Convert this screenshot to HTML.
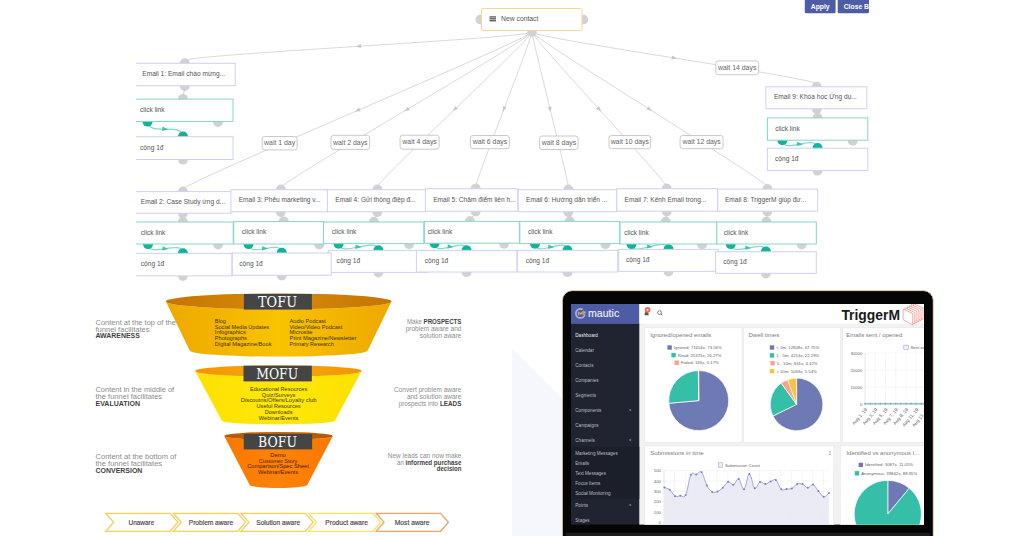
<!DOCTYPE html><html><head><meta charset="utf-8"><style>html,body{margin:0;padding:0;background:#fff;width:1024px;height:536px;overflow:hidden}svg text{font-family:"Liberation Sans", "DejaVu Sans", sans-serif}</style></head><body>
<svg width="1024" height="536" viewBox="0 0 1024 536" style="display:block">
<defs><clipPath id="cbclip"><rect x="136" y="0" width="900" height="286"/></clipPath></defs>
<g clip-path="url(#cbclip)"><path d="M532,32 C532,38 184.8,54.6 184.8,60.6" fill="none" stroke="#dadada" stroke-width="1"/><polygon points="355.7,46.5 361.0,44.1 361.2,48.1" fill="#c8c8c8"/><path d="M532,32 C532,38 182.9,183.1 182.9,189.1" fill="none" stroke="#dadada" stroke-width="1"/><polygon points="355.0,111.6 359.1,107.6 360.7,111.3" fill="#c8c8c8"/><path d="M532,32 C532,38 280.8,181.7 280.8,187.7" fill="none" stroke="#dadada" stroke-width="1"/><polygon points="404.1,111.2 407.7,106.7 409.8,110.2" fill="#c8c8c8"/><path d="M532,32 C532,38 377.4,180.8 377.4,186.8" fill="none" stroke="#dadada" stroke-width="1"/><polygon points="452.8,111.3 455.2,106.1 458.0,109.0" fill="#c8c8c8"/><path d="M532,32 C532,38 475.7,180.5 475.7,186.5" fill="none" stroke="#dadada" stroke-width="1"/><polygon points="502.9,111.8 502.9,106.0 506.7,107.4" fill="#c8c8c8"/><path d="M532,32 C532,38 568.4,181.0 568.4,187.0" fill="none" stroke="#dadada" stroke-width="1"/><polygon points="550.8,112.1 547.6,107.4 551.5,106.4" fill="#c8c8c8"/><path d="M532,32 C532,38 666.7,181.0 666.7,187.0" fill="none" stroke="#dadada" stroke-width="1"/><polygon points="601.2,111.5 596.0,108.9 599.0,106.1" fill="#c8c8c8"/><path d="M532,32 C532,38 767.4,180.8 767.4,186.8" fill="none" stroke="#dadada" stroke-width="1"/><polygon points="652.0,110.8 646.3,109.7 648.5,106.2" fill="#c8c8c8"/><path d="M532,32 C532,38 816.8,78.0 816.8,84.0" fill="none" stroke="#dadada" stroke-width="1"/><polygon points="677.1,58.4 671.4,59.6 672.1,55.6" fill="#c8c8c8"/><rect x="262.2" y="136.5" width="34.9" height="13.4" rx="2.5" fill="#fff" stroke="#bdbdbd" stroke-width="0.8"/><text x="279.6" y="145.4" text-anchor="middle" font-size="6.9" fill="#666">wait 1 day</text><rect x="331.0" y="135.3" width="38.6" height="14.1" rx="2.5" fill="#fff" stroke="#bdbdbd" stroke-width="0.8"/><text x="350.3" y="144.6" text-anchor="middle" font-size="6.9" fill="#666">wait 2 days</text><rect x="400.1" y="135.2" width="39.1" height="14.0" rx="2.5" fill="#fff" stroke="#bdbdbd" stroke-width="0.8"/><text x="419.6" y="144.4" text-anchor="middle" font-size="6.9" fill="#666">wait 4 days</text><rect x="470.4" y="135.5" width="38.9" height="13.2" rx="2.5" fill="#fff" stroke="#bdbdbd" stroke-width="0.8"/><text x="489.9" y="144.3" text-anchor="middle" font-size="6.9" fill="#666">wait 6 days</text><rect x="539.6" y="136.0" width="38.5" height="13.5" rx="2.5" fill="#fff" stroke="#bdbdbd" stroke-width="0.8"/><text x="558.9" y="144.9" text-anchor="middle" font-size="6.9" fill="#666">wait 8 days</text><rect x="609.0" y="135.5" width="41.6" height="13.2" rx="2.5" fill="#fff" stroke="#bdbdbd" stroke-width="0.8"/><text x="629.8" y="144.3" text-anchor="middle" font-size="6.9" fill="#666">wait 10 days</text><rect x="680.1" y="135.5" width="43.0" height="13.2" rx="2.5" fill="#fff" stroke="#bdbdbd" stroke-width="0.8"/><text x="701.6" y="144.3" text-anchor="middle" font-size="6.9" fill="#666">wait 12 days</text><rect x="715.8" y="60.9" width="42.9" height="13.8" rx="2.5" fill="#fff" stroke="#bdbdbd" stroke-width="0.8"/><text x="737.2" y="70.0" text-anchor="middle" font-size="6.9" fill="#666">wait 14 days</text><circle cx="184.8" cy="63.1" r="4.9" fill="#d2d2d2"/><circle cx="184.8" cy="86.0" r="4.9" fill="#d2d2d2"/><circle cx="183.0" cy="98.8" r="4.9" fill="#d2d2d2"/><line x1="184.8" y1="87.7" x2="183" y2="97.1" stroke="#cfcfcf" stroke-width="1"/><circle cx="218.0" cy="122.1" r="4.9" fill="#d2d2d2"/><circle cx="183.0" cy="159.7" r="4.9" fill="#d2d2d2"/><path d="M147.5,121.5 C147.5,136.5 183.0,121.7 183.0,136.7" fill="none" stroke="#86d9c8" stroke-width="1.2"/><polygon points="168.2,129.4 162.0,131.0 162.5,126.6" fill="#3fc3aa"/><circle cx="147.5" cy="121.6" r="5.0" fill="#12b39b"/><circle cx="183.0" cy="136.5" r="5.0" fill="#12b39b"/><circle cx="182.9" cy="191.4" r="4.9" fill="#d2d2d2"/><circle cx="182.9" cy="213.5" r="4.9" fill="#d2d2d2"/><circle cx="182.9" cy="221.7" r="4.9" fill="#d2d2d2"/><line x1="182.9" y1="215.2" x2="182.9" y2="220" stroke="#cfcfcf" stroke-width="1"/><circle cx="218.1" cy="244.6" r="4.9" fill="#d2d2d2"/><circle cx="182.9" cy="276.1" r="4.9" fill="#d2d2d2"/><path d="M148.0,244.0 C148.0,259.0 182.9,238.4 182.9,253.4" fill="none" stroke="#86d9c8" stroke-width="1.2"/><polygon points="168.4,249.0 162.2,250.6 162.7,246.2" fill="#3fc3aa"/><circle cx="148.0" cy="244.1" r="5.0" fill="#12b39b"/><circle cx="182.9" cy="253.2" r="5.0" fill="#12b39b"/><circle cx="280.8" cy="189.5" r="4.9" fill="#d2d2d2"/><circle cx="280.8" cy="212.1" r="4.9" fill="#d2d2d2"/><circle cx="283.8" cy="221.3" r="4.9" fill="#d2d2d2"/><line x1="280.8" y1="213.8" x2="283.8" y2="219.6" stroke="#cfcfcf" stroke-width="1"/><circle cx="319.2" cy="244.6" r="4.9" fill="#d2d2d2"/><circle cx="281.8" cy="275.5" r="4.9" fill="#d2d2d2"/><path d="M248.5,244.0 C248.5,259.0 281.8,238.0 281.8,253.0" fill="none" stroke="#86d9c8" stroke-width="1.2"/><polygon points="268.1,248.8 261.9,250.4 262.4,246.0" fill="#3fc3aa"/><circle cx="248.5" cy="244.1" r="5.0" fill="#12b39b"/><circle cx="281.8" cy="252.8" r="5.0" fill="#12b39b"/><circle cx="377.4" cy="189.5" r="4.9" fill="#d2d2d2"/><circle cx="377.4" cy="212.1" r="4.9" fill="#d2d2d2"/><circle cx="373.9" cy="221.7" r="4.9" fill="#d2d2d2"/><line x1="377.4" y1="213.8" x2="373.9" y2="220" stroke="#cfcfcf" stroke-width="1"/><circle cx="409.1" cy="244.2" r="4.9" fill="#d2d2d2"/><circle cx="378.4" cy="272.6" r="4.9" fill="#d2d2d2"/><path d="M338.6,243.6 C338.6,258.6 378.4,235.4 378.4,250.4" fill="none" stroke="#86d9c8" stroke-width="1.2"/><polygon points="361.5,247.3 355.3,248.9 355.7,244.5" fill="#3fc3aa"/><circle cx="338.6" cy="243.7" r="5.0" fill="#12b39b"/><circle cx="378.4" cy="250.2" r="5.0" fill="#12b39b"/><circle cx="475.7" cy="188.5" r="4.9" fill="#d2d2d2"/><circle cx="475.7" cy="211.5" r="4.9" fill="#d2d2d2"/><circle cx="469.9" cy="221.1" r="4.9" fill="#d2d2d2"/><line x1="475.7" y1="213.2" x2="469.9" y2="219.4" stroke="#cfcfcf" stroke-width="1"/><circle cx="504.1" cy="243.8" r="4.9" fill="#d2d2d2"/><circle cx="466.6" cy="272.2" r="4.9" fill="#d2d2d2"/><path d="M434.6,243.2 C434.6,258.2 466.6,235.4 466.6,250.4" fill="none" stroke="#86d9c8" stroke-width="1.2"/><polygon points="453.6,247.1 447.4,248.7 447.8,244.3" fill="#3fc3aa"/><circle cx="434.6" cy="243.3" r="5.0" fill="#12b39b"/><circle cx="466.6" cy="250.2" r="5.0" fill="#12b39b"/><circle cx="568.4" cy="189.5" r="4.9" fill="#d2d2d2"/><circle cx="568.4" cy="212.1" r="4.9" fill="#d2d2d2"/><circle cx="569.7" cy="221.1" r="4.9" fill="#d2d2d2"/><line x1="568.4" y1="213.8" x2="569.7" y2="219.4" stroke="#cfcfcf" stroke-width="1"/><circle cx="605.4" cy="244.2" r="4.9" fill="#d2d2d2"/><circle cx="567.5" cy="272.2" r="4.9" fill="#d2d2d2"/><path d="M535.0,243.6 C535.0,258.6 567.5,235.4 567.5,250.4" fill="none" stroke="#86d9c8" stroke-width="1.2"/><polygon points="554.2,247.3 548.0,248.9 548.5,244.5" fill="#3fc3aa"/><circle cx="535.0" cy="243.7" r="5.0" fill="#12b39b"/><circle cx="567.5" cy="250.2" r="5.0" fill="#12b39b"/><circle cx="666.7" cy="188.5" r="4.9" fill="#d2d2d2"/><circle cx="666.7" cy="211.5" r="4.9" fill="#d2d2d2"/><circle cx="665.7" cy="221.7" r="4.9" fill="#d2d2d2"/><line x1="666.7" y1="213.2" x2="665.7" y2="220" stroke="#cfcfcf" stroke-width="1"/><circle cx="702.0" cy="244.6" r="4.9" fill="#d2d2d2"/><circle cx="668.5" cy="271.6" r="4.9" fill="#d2d2d2"/><path d="M631.5,244.0 C631.5,259.0 668.5,234.4 668.5,249.4" fill="none" stroke="#86d9c8" stroke-width="1.2"/><polygon points="653.0,247.0 646.8,248.6 647.2,244.2" fill="#3fc3aa"/><circle cx="631.5" cy="244.1" r="5.0" fill="#12b39b"/><circle cx="668.5" cy="249.2" r="5.0" fill="#12b39b"/><circle cx="767.4" cy="188.9" r="4.9" fill="#d2d2d2"/><circle cx="767.4" cy="211.5" r="4.9" fill="#d2d2d2"/><circle cx="766.4" cy="221.7" r="4.9" fill="#d2d2d2"/><line x1="767.4" y1="213.2" x2="766.4" y2="220" stroke="#cfcfcf" stroke-width="1"/><circle cx="801.7" cy="244.6" r="4.9" fill="#d2d2d2"/><circle cx="765.9" cy="273.5" r="4.9" fill="#d2d2d2"/><path d="M730.7,244.0 C730.7,259.0 765.9,236.8 765.9,251.8" fill="none" stroke="#86d9c8" stroke-width="1.2"/><polygon points="751.3,248.2 745.1,249.8 745.5,245.4" fill="#3fc3aa"/><circle cx="730.7" cy="244.1" r="5.0" fill="#12b39b"/><circle cx="765.9" cy="251.6" r="5.0" fill="#12b39b"/><circle cx="816.8" cy="86.6" r="4.9" fill="#d2d2d2"/><circle cx="816.8" cy="109.0" r="4.9" fill="#d2d2d2"/><circle cx="817.6" cy="117.6" r="4.9" fill="#d2d2d2"/><line x1="816.8" y1="110.7" x2="817.6" y2="115.9" stroke="#cfcfcf" stroke-width="1"/><circle cx="852.7" cy="140.8" r="4.9" fill="#d2d2d2"/><circle cx="817.6" cy="170.7" r="4.9" fill="#d2d2d2"/><path d="M782.4,140.2 C782.4,155.2 817.6,133.2 817.6,148.2" fill="none" stroke="#86d9c8" stroke-width="1.2"/><polygon points="803.0,144.5 796.8,146.1 797.2,141.7" fill="#3fc3aa"/><circle cx="782.4" cy="140.3" r="5.0" fill="#12b39b"/><circle cx="817.6" cy="148.0" r="5.0" fill="#12b39b"/><rect x="130" y="63.3" width="105.2" height="22.4" fill="#fff" stroke="#cdd1f6" stroke-width="1"/><text x="142.3" y="76.1" font-size="6.6" fill="#555">Email 1: Email chào mừng...</text><rect x="130" y="191.6" width="101.9" height="21.6" fill="#fff" stroke="#cdd1f6" stroke-width="1"/><text x="140.8" y="204.0" font-size="6.6" fill="#555">Email 2: Case Study ứng d...</text><rect x="230.9" y="189.7" width="96.9" height="22.1" fill="#fff" stroke="#cdd1f6" stroke-width="1"/><text x="238.7" y="202.3" font-size="6.6" fill="#555">Email 3: Phễu marketing v...</text><rect x="327.4" y="189.7" width="98.4" height="22.1" fill="#fff" stroke="#cdd1f6" stroke-width="1"/><text x="335.3" y="202.3" font-size="6.6" fill="#555">Email 4: Gửi thông điệp đ...</text><rect x="425.4" y="188.7" width="92.4" height="22.5" fill="#fff" stroke="#cdd1f6" stroke-width="1"/><text x="433.2" y="201.5" font-size="6.6" fill="#555">Email 5: Chăm điểm liên h...</text><rect x="518.2" y="189.7" width="98.6" height="22.1" fill="#fff" stroke="#cdd1f6" stroke-width="1"/><text x="526.0" y="202.3" font-size="6.6" fill="#555">Email 6: Hướng dẫn triển ...</text><rect x="616.8" y="188.7" width="100.6" height="22.5" fill="#fff" stroke="#cdd1f6" stroke-width="1"/><text x="624.6" y="201.5" font-size="6.6" fill="#555">Email 7: Kênh Email trong...</text><rect x="717.8" y="189.1" width="99.9" height="22.1" fill="#fff" stroke="#cdd1f6" stroke-width="1"/><text x="724.9" y="201.7" font-size="6.6" fill="#555">Email 8: TriggerM giúp đư...</text><rect x="765.9" y="86.8" width="100.9" height="21.9" fill="#fff" stroke="#cdd1f6" stroke-width="1"/><text x="773.9" y="99.3" font-size="6.6" fill="#555">Email 9: Khóa học Ứng dụ...</text><rect x="130" y="99.1" width="103.0" height="22.4" fill="#fff" stroke="#84d8c6" stroke-width="1"/><text x="140.0" y="111.9" font-size="6.6" fill="#555">click link</text><rect x="130" y="222" width="103.2" height="22.0" fill="#fff" stroke="#84d8c6" stroke-width="1"/><text x="140.8" y="234.6" font-size="6.6" fill="#555">click link</text><rect x="233.8" y="221.6" width="90.2" height="22.4" fill="#fff" stroke="#84d8c6" stroke-width="1"/><text x="241.7" y="234.4" font-size="6.6" fill="#555">click link</text><rect x="323.5" y="222" width="100.3" height="21.6" fill="#fff" stroke="#84d8c6" stroke-width="1"/><text x="331.8" y="234.4" font-size="6.6" fill="#555">click link</text><rect x="424.4" y="221.4" width="95.0" height="21.8" fill="#fff" stroke="#84d8c6" stroke-width="1"/><text x="427.7" y="233.9" font-size="6.6" fill="#555">click link</text><rect x="519.8" y="221.4" width="99.9" height="22.2" fill="#fff" stroke="#84d8c6" stroke-width="1"/><text x="528.0" y="234.1" font-size="6.6" fill="#555">click link</text><rect x="620" y="222" width="96.8" height="22.0" fill="#fff" stroke="#84d8c6" stroke-width="1"/><text x="624.2" y="234.6" font-size="6.6" fill="#555">click link</text><rect x="716.8" y="222" width="99.5" height="22.0" fill="#fff" stroke="#84d8c6" stroke-width="1"/><text x="723.7" y="234.6" font-size="6.6" fill="#555">click link</text><rect x="767.4" y="117.9" width="100.4" height="22.3" fill="#fff" stroke="#84d8c6" stroke-width="1"/><text x="775.2" y="130.7" font-size="6.6" fill="#555">click link</text><rect x="130" y="136.7" width="103.0" height="22.8" fill="#fff" stroke="#cdd1f6" stroke-width="1"/><text x="140.0" y="149.7" font-size="6.6" fill="#555">cộng 1đ</text><rect x="130" y="253.4" width="101.9" height="22.5" fill="#fff" stroke="#cdd1f6" stroke-width="1"/><text x="140.8" y="266.2" font-size="6.6" fill="#555">cộng 1đ</text><rect x="328.3" y="250.4" width="100.0" height="22.0" fill="#fff" stroke="#cdd1f6" stroke-width="1"/><text x="336.6" y="263.0" font-size="6.6" fill="#555">cộng 1đ</text><rect x="232.3" y="253" width="98.9" height="22.3" fill="#fff" stroke="#cdd1f6" stroke-width="1"/><text x="239.3" y="265.8" font-size="6.6" fill="#555">cộng 1đ</text><rect x="416.4" y="250.4" width="100.5" height="21.6" fill="#fff" stroke="#cdd1f6" stroke-width="1"/><text x="424.8" y="262.8" font-size="6.6" fill="#555">cộng 1đ</text><rect x="517.4" y="250.4" width="100.3" height="21.6" fill="#fff" stroke="#cdd1f6" stroke-width="1"/><text x="525.7" y="262.8" font-size="6.6" fill="#555">cộng 1đ</text><rect x="618.7" y="249.4" width="99.7" height="22.0" fill="#fff" stroke="#cdd1f6" stroke-width="1"/><text x="626.0" y="262.0" font-size="6.6" fill="#555">cộng 1đ</text><rect x="715.5" y="251.8" width="100.8" height="21.5" fill="#fff" stroke="#cdd1f6" stroke-width="1"/><text x="723.3" y="264.2" font-size="6.6" fill="#555">cộng 1đ</text><rect x="767.4" y="148.2" width="100.4" height="22.3" fill="#fff" stroke="#cdd1f6" stroke-width="1"/><text x="775.0" y="160.9" font-size="6.6" fill="#555">cộng 1đ</text><circle cx="480.3" cy="19.5" r="4.8" fill="#d2d2d2"/><circle cx="583.4" cy="19.5" r="4.8" fill="#d2d2d2"/><circle cx="532.0" cy="32.0" r="4.8" fill="#d2d2d2"/><rect x="481.5" y="8.5" width="100.5" height="22" rx="1.5" fill="#fff" stroke="#f8d595" stroke-width="1"/><rect x="489.5" y="16.3" width="6.5" height="1.3" fill="#555"/><rect x="489.5" y="18.2" width="6.5" height="1.3" fill="#555"/><rect x="489.5" y="20.1" width="6.5" height="1.3" fill="#555"/><text x="501" y="20.8" font-size="6.8" fill="#555">New contact</text><rect x="804.8" y="-3" width="30.8" height="16.2" rx="1.5" fill="#4e5ca6"/><text x="820.2" y="9.2" text-anchor="middle" font-size="6.8" font-weight="bold" fill="#fff">Apply</text><rect x="837.7" y="-3" width="31.3" height="16.2" rx="1.5" fill="#4e5ca6"/><svg x="837.7" y="0" width="31.3" height="14" overflow="hidden"><text x="6" y="9.2" font-size="6.8" font-weight="bold" fill="#fff">Close Bu</text></svg></g>
<defs>
<linearGradient id="tofuB" x1="0" x2="1" y1="0" y2="0"><stop offset="0" stop-color="#eea800"/><stop offset="0.5" stop-color="#f9c300"/><stop offset="1" stop-color="#eea800"/></linearGradient>
<linearGradient id="tofuI" x1="0" x2="1" y1="0" y2="0"><stop offset="0" stop-color="#c67400"/><stop offset="0.5" stop-color="#d58b0c"/><stop offset="1" stop-color="#c67400"/></linearGradient>
<linearGradient id="mofuB" x1="0" x2="1" y1="0" y2="0"><stop offset="0" stop-color="#fde000"/><stop offset="0.5" stop-color="#ffe80a"/><stop offset="1" stop-color="#fde000"/></linearGradient>
<linearGradient id="mofuI" x1="0" x2="1" y1="0" y2="0"><stop offset="0" stop-color="#f39400"/><stop offset="0.5" stop-color="#f7a812"/><stop offset="1" stop-color="#f39400"/></linearGradient>
<linearGradient id="bofuB" x1="0" x2="1" y1="0" y2="0"><stop offset="0" stop-color="#fa7800"/><stop offset="0.5" stop-color="#ff8208"/><stop offset="1" stop-color="#fa7800"/></linearGradient>
<linearGradient id="bofuI" x1="0" x2="1" y1="0" y2="0"><stop offset="0" stop-color="#b45600"/><stop offset="0.5" stop-color="#c46408"/><stop offset="1" stop-color="#b45600"/></linearGradient>
</defs><path d="M165.89999999999998,301.4 L189.7,350.6 A89.0,6.0 0 0 0 367.7,350.6 L391.5,301.4 A112.8,7.9 0 0 1 165.89999999999998,301.4 Z" fill="url(#tofuB)"/><ellipse cx="278.7" cy="301.4" rx="112.8" ry="7.9" fill="url(#tofuI)"/><path d="M195.2,371.0 L221.7,420.4 A56.7,4.0 0 0 0 335.09999999999997,420.4 L361.59999999999997,371.0 A83.2,5.7 0 0 1 195.2,371.0 Z" fill="url(#mofuB)"/><ellipse cx="278.4" cy="371.0" rx="83.2" ry="5.7" fill="url(#mofuI)"/><path d="M224.2,436.0 L249.6,484.8 A28.9,3.2 0 0 0 307.4,484.8 L332.8,436.0 A54.3,4.0 0 0 1 224.2,436.0 Z" fill="url(#bofuB)"/><ellipse cx="278.5" cy="436.0" rx="54.3" ry="4.0" fill="url(#bofuI)"/><rect x="243.9" y="293.9" width="68.0" height="15.7" fill="#454545"/><text x="277.5" y="307.3" text-anchor="middle" style='font-family:"DejaVu Serif", "Liberation Serif", serif' font-size="13.9" fill="#fff" textLength="39.0" lengthAdjust="spacingAndGlyphs">TOFU</text><rect x="243.5" y="365.7" width="68.3" height="15.7" fill="#454545"/><text x="277.2" y="378.8" text-anchor="middle" style='font-family:"DejaVu Serif", "Liberation Serif", serif' font-size="13.9" fill="#fff" textLength="42.0" lengthAdjust="spacingAndGlyphs">MOFU</text><rect x="243.75" y="434.0" width="68.4" height="15.4" fill="#454545"/><text x="277.5" y="446.9" text-anchor="middle" style='font-family:"DejaVu Serif", "Liberation Serif", serif' font-size="13.9" fill="#fff" textLength="38.8" lengthAdjust="spacingAndGlyphs">BOFU</text><text x="214.8" y="322.9" font-size="5.8" fill="#3e3300" text-anchor="start" textLength="10.9" lengthAdjust="spacingAndGlyphs">Blog</text><text x="214.8" y="328.5" font-size="5.8" fill="#3e3300" text-anchor="start" textLength="54.3" lengthAdjust="spacingAndGlyphs">Social Media Updates</text><text x="214.8" y="334.2" font-size="5.8" fill="#3e3300" text-anchor="start" textLength="31.0" lengthAdjust="spacingAndGlyphs">Infographics</text><text x="214.8" y="339.8" font-size="5.8" fill="#3e3300" text-anchor="start" textLength="32.1" lengthAdjust="spacingAndGlyphs">Photographs</text><text x="214.8" y="345.5" font-size="5.8" fill="#3e3300" text-anchor="start" textLength="56.7" lengthAdjust="spacingAndGlyphs">Digital Magazine/Book</text><text x="289.6" y="322.9" font-size="5.8" fill="#3e3300" text-anchor="start" textLength="36.3" lengthAdjust="spacingAndGlyphs">Audio Podcast</text><text x="289.6" y="328.5" font-size="5.8" fill="#3e3300" text-anchor="start" textLength="52.7" lengthAdjust="spacingAndGlyphs">Video/Video Podcast</text><text x="289.6" y="334.2" font-size="5.8" fill="#3e3300" text-anchor="start" textLength="22.9" lengthAdjust="spacingAndGlyphs">Microsite</text><text x="289.6" y="339.8" font-size="5.8" fill="#3e3300" text-anchor="start" textLength="66.8" lengthAdjust="spacingAndGlyphs">Print Magazine/Newsletter</text><text x="289.6" y="345.5" font-size="5.8" fill="#3e3300" text-anchor="start" textLength="44.1" lengthAdjust="spacingAndGlyphs">Primary Research</text><text x="278.6" y="391.0" font-size="5.8" fill="#3d3800" text-anchor="middle" textLength="57.2" lengthAdjust="spacingAndGlyphs">Educational Resources</text><text x="278.6" y="396.7" font-size="5.8" fill="#3d3800" text-anchor="middle" textLength="33.6" lengthAdjust="spacingAndGlyphs">Quiz/Surveys</text><text x="278.6" y="402.4" font-size="5.8" fill="#3d3800" text-anchor="middle" textLength="75.8" lengthAdjust="spacingAndGlyphs">Discoutns/Offers/Loyalty club</text><text x="278.6" y="408.1" font-size="5.8" fill="#3d3800" text-anchor="middle" textLength="44.0" lengthAdjust="spacingAndGlyphs">Useful Resources</text><text x="278.6" y="413.8" font-size="5.8" fill="#3d3800" text-anchor="middle" textLength="27.9" lengthAdjust="spacingAndGlyphs">Downloads</text><text x="278.6" y="419.5" font-size="5.8" fill="#3d3800" text-anchor="middle" textLength="39.6" lengthAdjust="spacingAndGlyphs">Webinar/Events</text><text x="278.0" y="457.0" font-size="5.8" fill="#4a2000" text-anchor="middle" textLength="15.3" lengthAdjust="spacingAndGlyphs">Demo</text><text x="278.0" y="462.7" font-size="5.8" fill="#4a2000" text-anchor="middle" textLength="38.6" lengthAdjust="spacingAndGlyphs">Customer Story</text><text x="278.0" y="468.4" font-size="5.8" fill="#4a2000" text-anchor="middle" textLength="61.7" lengthAdjust="spacingAndGlyphs">Comparison/Spec Sheet</text><text x="278.0" y="474.1" font-size="5.8" fill="#4a2000" text-anchor="middle" textLength="40.0" lengthAdjust="spacingAndGlyphs">Webinar/Events</text><text x="95.5" y="324.6" font-size="7.5" fill="#8c8c8c" text-anchor="start" textLength="80.3" lengthAdjust="spacingAndGlyphs">Content at the top of the</text><text x="95.5" y="331.5" font-size="7.5" fill="#8c8c8c" text-anchor="start" textLength="54.0" lengthAdjust="spacingAndGlyphs">funnel facilitates</text><text x="95.5" y="338.3" font-size="7.5" fill="#3f3f3f" font-weight="bold" text-anchor="start" textLength="44.3" lengthAdjust="spacingAndGlyphs">AWARENESS</text><text x="95.5" y="392.3" font-size="7.5" fill="#8c8c8c" text-anchor="start" textLength="78.6" lengthAdjust="spacingAndGlyphs">Content in the middle of</text><text x="95.5" y="399.3" font-size="7.5" fill="#8c8c8c" text-anchor="start" textLength="66.6" lengthAdjust="spacingAndGlyphs">the funnel facilitates</text><text x="95.5" y="406.4" font-size="7.5" fill="#3f3f3f" font-weight="bold" text-anchor="start" textLength="44.6" lengthAdjust="spacingAndGlyphs">EVALUATION</text><text x="95.5" y="458.5" font-size="7.5" fill="#8c8c8c" text-anchor="start" textLength="80.9" lengthAdjust="spacingAndGlyphs">Content at the bottom of</text><text x="95.5" y="465.5" font-size="7.5" fill="#8c8c8c" text-anchor="start" textLength="66.6" lengthAdjust="spacingAndGlyphs">the funnel facilitates</text><text x="95.5" y="472.5" font-size="7.5" fill="#3f3f3f" font-weight="bold" text-anchor="start" textLength="46.9" lengthAdjust="spacingAndGlyphs">CONVERSION</text><text x="461.4" y="324.2" font-size="7.4" fill="#8c8c8c" text-anchor="end" textLength="54.5" lengthAdjust="spacingAndGlyphs">Make <tspan font-weight="bold" fill="#3f3f3f">PROSPECTS</tspan></text><text x="461.4" y="331.3" font-size="7.4" fill="#8c8c8c" text-anchor="end" textLength="55.7" lengthAdjust="spacingAndGlyphs">problem aware and</text><text x="461.4" y="338.3" font-size="7.4" fill="#8c8c8c" text-anchor="end" textLength="41.6" lengthAdjust="spacingAndGlyphs">solution aware</text><text x="461.4" y="391.7" font-size="7.4" fill="#8c8c8c" text-anchor="end" textLength="67.4" lengthAdjust="spacingAndGlyphs">Convert problem aware</text><text x="461.4" y="398.7" font-size="7.4" fill="#8c8c8c" text-anchor="end" textLength="54.5" lengthAdjust="spacingAndGlyphs">and solution aware</text><text x="461.4" y="405.6" font-size="7.4" fill="#8c8c8c" text-anchor="end" textLength="62.7" lengthAdjust="spacingAndGlyphs">prospects into <tspan font-weight="bold" fill="#3f3f3f">LEADS</tspan></text><text x="461.4" y="457.5" font-size="7.4" fill="#8c8c8c" text-anchor="end" textLength="73.6" lengthAdjust="spacingAndGlyphs">New leads can now make</text><text x="461.4" y="464.6" font-size="7.4" fill="#8c8c8c" text-anchor="end" textLength="64.4" lengthAdjust="spacingAndGlyphs">an <tspan font-weight="bold" fill="#3f3f3f">informed purchase</tspan></text><text x="461.4" y="471.4" font-size="7.4" fill="#3f3f3f" font-weight="bold" text-anchor="end" textLength="24.6" lengthAdjust="spacingAndGlyphs">decision</text><path d="M105.7,513.3 L170.2,513.3 L178.0,522.3 L170.2,531.3 L105.7,531.3 L113.7,522.3 Z" fill="#fff" stroke="#f2cf5e" stroke-width="1.3" stroke-linejoin="miter"/><text x="141.4" y="524.7" font-size="6.9" text-anchor="middle" fill="#4a4a4a" stroke="#4a4a4a" stroke-width="0.18" textLength="25.6" lengthAdjust="spacingAndGlyphs">Unaware</text><path d="M173.3,513.3 L237.8,513.3 L245.60000000000002,522.3 L237.8,531.3 L173.3,531.3 L181.3,522.3 Z" fill="#fff" stroke="#f2cf5e" stroke-width="1.3" stroke-linejoin="miter"/><text x="210.9" y="524.7" font-size="6.9" text-anchor="middle" fill="#4a4a4a" stroke="#4a4a4a" stroke-width="0.18" textLength="44.3" lengthAdjust="spacingAndGlyphs">Problem aware</text><path d="M240.89999999999998,513.3 L305.4,513.3 L313.2,522.3 L305.4,531.3 L240.89999999999998,531.3 L248.89999999999998,522.3 Z" fill="#fff" stroke="#f2d05e" stroke-width="1.3" stroke-linejoin="miter"/><text x="278.2" y="524.7" font-size="6.9" text-anchor="middle" fill="#4a4a4a" stroke="#4a4a4a" stroke-width="0.18" textLength="43.9" lengthAdjust="spacingAndGlyphs">Solution aware</text><path d="M308.5,513.3 L373.0,513.3 L380.8,522.3 L373.0,531.3 L308.5,531.3 L316.5,522.3 Z" fill="#fff" stroke="#f5e36a" stroke-width="1.3" stroke-linejoin="miter"/><text x="346.6" y="524.7" font-size="6.9" text-anchor="middle" fill="#4a4a4a" stroke="#4a4a4a" stroke-width="0.18" textLength="42.6" lengthAdjust="spacingAndGlyphs">Product aware</text><path d="M376.09999999999997,513.3 L440.59999999999997,513.3 L448.4,522.3 L440.59999999999997,531.3 L376.09999999999997,531.3 L384.09999999999997,522.3 Z" fill="#fff" stroke="#f0a466" stroke-width="1.3" stroke-linejoin="miter"/><text x="412.1" y="524.7" font-size="6.9" text-anchor="middle" fill="#4a4a4a" stroke="#4a4a4a" stroke-width="0.18" textLength="34.6" lengthAdjust="spacingAndGlyphs">Most aware</text>
<polygon points="512,348 566,402 566,536 512,536" fill="#f6f7fc"/><rect x="562.3" y="290.6" width="371" height="260" rx="10" fill="#050505" stroke="#f4dcc6" stroke-width="0.9"/><rect x="566" y="532.8" width="364" height="4" fill="#1b1b1b"/><svg x="571.0" y="304.0" width="353.0" height="220.8" viewBox="571.0 304.0 353.0 220.8" overflow="hidden"><rect x="571.0" y="304.0" width="353.0" height="220.8" fill="#1f2430"/><rect x="639.3" y="304.0" width="284.7" height="220.8" fill="#f2f2f2"/><rect x="571.0" y="446.8" width="68.3" height="52.2" fill="#1b1f29"/><rect x="571.0" y="304.0" width="68.3" height="19.9" fill="#4e5ca3"/><circle cx="580.4" cy="313.4" r="4.5" fill="none" stroke="#a9b2dd" stroke-width="1.7" stroke-dasharray="22 2.5" stroke-dashoffset="-1"/><path d="M577.9,315.3 L577.9,311.3 L580.6,313.1 L583.8,310.2 L583.8,315.3 L582.6,315.3 L582.6,313.4 L580.6,315 L579.1,313.6 L579.1,315.3 Z" fill="#d9a050"/><text x="588" y="316.8" font-size="10.6" fill="#eef0fa" stroke="#eef0fa" stroke-width="0.12" textLength="31.2" lengthAdjust="spacingAndGlyphs">mautic</text><text x="575.3" y="336.6" font-size="4.6" fill="#f0f0f0">Dashboard</text><text x="575.3" y="351.6" font-size="4.6" fill="#b9bdc7">Calendar</text><text x="575.3" y="366.6" font-size="4.6" fill="#b9bdc7">Contacts</text><text x="575.3" y="381.6" font-size="4.6" fill="#b9bdc7">Companies</text><text x="575.3" y="396.6" font-size="4.6" fill="#b9bdc7">Segments</text><text x="575.3" y="411.6" font-size="4.6" fill="#b9bdc7">Components</text><polygon points="629.6,408.7 631.4,410 629.6,411.3" fill="#9aa0ad"/><text x="575.3" y="426.6" font-size="4.6" fill="#b9bdc7">Campaigns</text><text x="575.3" y="441.6" font-size="4.6" fill="#b9bdc7">Channels</text><polygon points="629.6,438.7 631.4,440 629.6,441.3" fill="#9aa0ad"/><text x="575.3" y="454.6" font-size="4.6" fill="#b9bdc7">Marketing Messages</text><text x="575.3" y="464.6" font-size="4.6" fill="#b9bdc7">Emails</text><text x="575.3" y="474.6" font-size="4.6" fill="#b9bdc7">Text Messages</text><text x="575.3" y="484.6" font-size="4.6" fill="#b9bdc7">Focus Items</text><text x="575.3" y="494.6" font-size="4.6" fill="#b9bdc7">Social Monitoring</text><text x="575.3" y="506.6" font-size="4.6" fill="#b9bdc7">Points</text><polygon points="629.6,503.7 631.4,505 629.6,506.3" fill="#9aa0ad"/><text x="575.3" y="521.6" font-size="4.6" fill="#b9bdc7">Stages</text><rect x="639.3" y="304.0" width="284.7" height="19.6" fill="#fff"/><path d="M644.5,315.2 Q644.7,311.6 646.6,311.6 Q648.5,311.6 648.7,315.2 Z" fill="#555"/><circle cx="647.6" cy="309.8" r="2.9" fill="#f06868"/><circle cx="647.6" cy="309.8" r="0.9" fill="#fff"/><circle cx="659.6" cy="312.6" r="1.9" fill="none" stroke="#666" stroke-width="0.8"/><line x1="661" y1="314" x2="662.4" y2="315.4" stroke="#666" stroke-width="0.9"/><text x="841.4" y="320.2" font-size="14.2" font-weight="bold" fill="#1a1a1a" textLength="58.6" lengthAdjust="spacingAndGlyphs">TriggerM</text><path d="M913.35,303.40 L913.35,314.10 L923.05,319.60 L923.05,308.10 Z" fill="#fff" stroke="#f07a78" stroke-width="0.65"/><path d="M911.30,304.50 L911.30,315.20 L921.00,320.70 L921.00,309.20 Z" fill="#fff" stroke="#f07a78" stroke-width="0.65"/><path d="M909.25,305.60 L909.25,316.30 L918.95,321.80 L918.95,310.30 Z" fill="#fff" stroke="#f07a78" stroke-width="0.65"/><path d="M907.20,306.70 L907.20,317.40 L916.90,322.90 L916.90,311.40 Z" fill="#fff" stroke="#f07a78" stroke-width="0.65"/><path d="M905.15,307.80 L905.15,318.50 L914.85,324.00 L914.85,312.50 Z" fill="#fff" stroke="#f07a78" stroke-width="0.65"/><path d="M903.10,308.90 L903.10,319.60 L912.80,325.10 L912.80,313.60 Z" fill="#fff" stroke="#f07a78" stroke-width="0.65"/><rect x="644.8" y="327.8" width="97.2" height="114.4" fill="#fff" stroke="#e6e6e6" stroke-width="0.6"/><rect x="743.4" y="327.8" width="97.3" height="114.4" fill="#fff" stroke="#e6e6e6" stroke-width="0.6"/><rect x="842.6" y="327.8" width="92.4" height="114.4" fill="#fff" stroke="#e6e6e6" stroke-width="0.6"/><rect x="644.6" y="445.9" width="189.2" height="94.1" fill="#fff" stroke="#e6e6e6" stroke-width="0.6"/><rect x="840.3" y="445.9" width="94.7" height="94.1" fill="#fff" stroke="#e6e6e6" stroke-width="0.6"/><text x="650.2" y="337.0" font-size="6.0" fill="#7a7a7a">Ignored/opened emails</text><text x="748.5" y="337.0" font-size="6.0" fill="#7a7a7a">Dwell times</text><text x="846.2" y="337.0" font-size="6.0" fill="#7a7a7a">Emails sent / opened</text><text x="650.3" y="455.0" font-size="6.0" fill="#7a7a7a">Submissions in time</text><text x="846.4" y="455.0" font-size="6.0" fill="#7a7a7a">Identified vs anonymous l...</text><rect x="667.4" y="345.3" width="4.4" height="4.4" fill="#6e7ab3"/><text x="673.8" y="349.0" font-size="4.3" fill="#666">Ignored; 71654x, 73.56%</text><rect x="671.4" y="352.9" width="4.4" height="4.4" fill="#35bfa8"/><text x="677.8" y="356.6" font-size="4.3" fill="#666">Read; 25375x, 26.27%</text><rect x="674.5" y="360.5" width="4.4" height="4.4" fill="#fba28b"/><text x="680.9" y="364.2" font-size="4.3" fill="#666">Failed; 166x, 0.17%</text><path d="M698.7,400.6 L698.70,370.60 A30,30 0 1 1 668.82,403.31 Z" fill="#6e7ab3" stroke="#fff" stroke-width="0.7"/><path d="M698.7,400.6 L668.82,403.31 A30,30 0 0 1 698.38,370.60 Z" fill="#35bfa8" stroke="#fff" stroke-width="0.7"/><path d="M698.7,400.6 L698.38,370.60 A30,30 0 0 1 698.70,370.60 Z" fill="#fba28b" stroke="#fff" stroke-width="0.7"/><rect x="769.8" y="345.3" width="4.4" height="4.4" fill="#6e7ab3"/><text x="776.2" y="349.0" font-size="4.3" fill="#666">&lt; 1m; 12808x, 67.75%</text><rect x="769.8" y="353.2" width="4.4" height="4.4" fill="#35bfa8"/><text x="776.2" y="356.9" font-size="4.3" fill="#666">1 - 5m; 4214x, 22.29%</text><rect x="770.4" y="361.0" width="4.4" height="4.4" fill="#fba28b"/><text x="776.8" y="364.7" font-size="4.3" fill="#666">5 - 10m; 841x, 4.42%</text><rect x="769.8" y="368.9" width="4.4" height="4.4" fill="#fcc23d"/><text x="776.2" y="372.6" font-size="4.3" fill="#666">&gt; 10m; 1063x, 5.54%</text><path d="M796.6,404.4 L796.60,378.10 A26.3,26.3 0 1 1 772.98,415.97 Z" fill="#6e7ab3" stroke="#fff" stroke-width="0.7"/><path d="M796.6,404.4 L772.98,415.97 A26.3,26.3 0 0 1 781.19,383.08 Z" fill="#35bfa8" stroke="#fff" stroke-width="0.7"/><path d="M796.6,404.4 L781.19,383.08 A26.3,26.3 0 0 1 787.63,379.68 Z" fill="#fba28b" stroke="#fff" stroke-width="0.7"/><path d="M796.6,404.4 L787.63,379.68 A26.3,26.3 0 0 1 796.60,378.10 Z" fill="#fcc23d" stroke="#fff" stroke-width="0.7"/><rect x="903.8" y="345.1" width="4.4" height="4.4" fill="#eef0f8" stroke="#8d97c8" stroke-width="0.5"/><text x="910.5" y="348.8" font-size="4.3" fill="#666">Sent emails</text><line x1="864.5" y1="353.0" x2="930" y2="353.0" stroke="#ececec" stroke-width="0.5"/><text x="862.4" y="354.5" font-size="4.3" fill="#666" text-anchor="end">30000</text><line x1="864.5" y1="370.2" x2="930" y2="370.2" stroke="#ececec" stroke-width="0.5"/><text x="862.4" y="371.7" font-size="4.3" fill="#666" text-anchor="end">20000</text><line x1="864.5" y1="387.4" x2="930" y2="387.4" stroke="#ececec" stroke-width="0.5"/><text x="862.4" y="388.9" font-size="4.3" fill="#666" text-anchor="end">10000</text><line x1="864.5" y1="404.6" x2="930" y2="404.6" stroke="#ececec" stroke-width="0.5"/><text x="862.4" y="406.1" font-size="4.3" fill="#666" text-anchor="end">0</text><line x1="865.0" y1="353" x2="865.0" y2="406" stroke="#cfcfcf" stroke-width="0.5"/><line x1="875.2" y1="353" x2="875.2" y2="406" stroke="#ececec" stroke-width="0.5"/><line x1="885.5" y1="353" x2="885.5" y2="406" stroke="#ececec" stroke-width="0.5"/><line x1="895.8" y1="353" x2="895.8" y2="406" stroke="#ececec" stroke-width="0.5"/><line x1="906.0" y1="353" x2="906.0" y2="406" stroke="#ececec" stroke-width="0.5"/><line x1="916.2" y1="353" x2="916.2" y2="406" stroke="#ececec" stroke-width="0.5"/><line x1="926.5" y1="353" x2="926.5" y2="406" stroke="#ececec" stroke-width="0.5"/><line x1="936.8" y1="353" x2="936.8" y2="406" stroke="#ececec" stroke-width="0.5"/><line x1="865" y1="404" x2="930" y2="404" stroke="#40c0aa" stroke-width="0.8"/><line x1="865" y1="403.3" x2="930" y2="403.3" stroke="#8d97c8" stroke-width="0.5"/><circle cx="865.0" cy="403.6" r="0.9" fill="#7fa8c0"/><circle cx="870.1" cy="403.6" r="0.9" fill="#7fa8c0"/><circle cx="875.2" cy="403.6" r="0.9" fill="#7fa8c0"/><circle cx="880.4" cy="403.6" r="0.9" fill="#7fa8c0"/><circle cx="885.5" cy="403.6" r="0.9" fill="#7fa8c0"/><circle cx="890.6" cy="403.6" r="0.9" fill="#7fa8c0"/><circle cx="895.7" cy="403.6" r="0.9" fill="#7fa8c0"/><circle cx="900.8" cy="403.6" r="0.9" fill="#7fa8c0"/><circle cx="906.0" cy="403.6" r="0.9" fill="#7fa8c0"/><circle cx="911.1" cy="403.6" r="0.9" fill="#7fa8c0"/><circle cx="916.2" cy="403.6" r="0.9" fill="#7fa8c0"/><circle cx="921.3" cy="403.6" r="0.9" fill="#7fa8c0"/><circle cx="926.4" cy="403.6" r="0.9" fill="#7fa8c0"/><circle cx="931.6" cy="403.6" r="0.9" fill="#7fa8c0"/><text x="867.2" y="409.8" font-size="4.75" fill="#666" text-anchor="end" transform="rotate(-50 867.2 409.5)">Aug 1, 19</text><text x="877.5" y="409.8" font-size="4.75" fill="#666" text-anchor="end" transform="rotate(-50 877.5 409.5)">Aug 3, 19</text><text x="887.7" y="409.8" font-size="4.75" fill="#666" text-anchor="end" transform="rotate(-50 887.7 409.5)">Aug 5, 19</text><text x="898.0" y="409.8" font-size="4.75" fill="#666" text-anchor="end" transform="rotate(-50 898.0 409.5)">Aug 7, 19</text><text x="908.2" y="409.8" font-size="4.75" fill="#666" text-anchor="end" transform="rotate(-50 908.2 409.5)">Aug 9, 19</text><text x="918.5" y="409.8" font-size="4.75" fill="#666" text-anchor="end" transform="rotate(-50 918.5 409.5)">Aug 11, 19</text><text x="928.7" y="409.8" font-size="4.75" fill="#666" text-anchor="end" transform="rotate(-50 928.7 409.5)">Aug 13, 19</text><rect x="718.3" y="462.8" width="4.4" height="4.4" fill="#eef0f8" stroke="#8d97c8" stroke-width="0.5"/><text x="725" y="466.5" font-size="4.3" fill="#666">Submission Count</text><line x1="662" y1="470.7" x2="829" y2="470.7" stroke="#ececec" stroke-width="0.5"/><text x="661" y="472.2" font-size="4.3" fill="#666" text-anchor="end">500</text><line x1="662" y1="481.1" x2="829" y2="481.1" stroke="#ececec" stroke-width="0.5"/><text x="661" y="482.6" font-size="4.3" fill="#666" text-anchor="end">400</text><line x1="662" y1="491.5" x2="829" y2="491.5" stroke="#ececec" stroke-width="0.5"/><text x="661" y="493.0" font-size="4.3" fill="#666" text-anchor="end">300</text><line x1="662" y1="501.9" x2="829" y2="501.9" stroke="#ececec" stroke-width="0.5"/><text x="661" y="503.4" font-size="4.3" fill="#666" text-anchor="end">200</text><line x1="662" y1="512.3" x2="829" y2="512.3" stroke="#ececec" stroke-width="0.5"/><text x="661" y="513.8" font-size="4.3" fill="#666" text-anchor="end">100</text><line x1="662" y1="522.7" x2="829" y2="522.7" stroke="#ececec" stroke-width="0.5"/><text x="661" y="524.2" font-size="4.3" fill="#666" text-anchor="end">0</text><line x1="664.0" y1="470.7" x2="664.0" y2="530" stroke="#cfcfcf" stroke-width="0.5"/><line x1="674.6" y1="470.7" x2="674.6" y2="530" stroke="#ececec" stroke-width="0.5"/><line x1="685.3" y1="470.7" x2="685.3" y2="530" stroke="#ececec" stroke-width="0.5"/><line x1="695.9" y1="470.7" x2="695.9" y2="530" stroke="#ececec" stroke-width="0.5"/><line x1="706.5" y1="470.7" x2="706.5" y2="530" stroke="#ececec" stroke-width="0.5"/><line x1="717.1" y1="470.7" x2="717.1" y2="530" stroke="#ececec" stroke-width="0.5"/><line x1="727.8" y1="470.7" x2="727.8" y2="530" stroke="#ececec" stroke-width="0.5"/><line x1="738.4" y1="470.7" x2="738.4" y2="530" stroke="#ececec" stroke-width="0.5"/><line x1="749.0" y1="470.7" x2="749.0" y2="530" stroke="#ececec" stroke-width="0.5"/><line x1="759.7" y1="470.7" x2="759.7" y2="530" stroke="#ececec" stroke-width="0.5"/><line x1="770.3" y1="470.7" x2="770.3" y2="530" stroke="#ececec" stroke-width="0.5"/><line x1="780.9" y1="470.7" x2="780.9" y2="530" stroke="#ececec" stroke-width="0.5"/><line x1="791.6" y1="470.7" x2="791.6" y2="530" stroke="#ececec" stroke-width="0.5"/><line x1="802.2" y1="470.7" x2="802.2" y2="530" stroke="#ececec" stroke-width="0.5"/><line x1="812.8" y1="470.7" x2="812.8" y2="530" stroke="#ececec" stroke-width="0.5"/><line x1="823.5" y1="470.7" x2="823.5" y2="530" stroke="#ececec" stroke-width="0.5"/><line x1="834.1" y1="470.7" x2="834.1" y2="530" stroke="#ececec" stroke-width="0.5"/><path d="M664.40,487.50 C665.33,487.88 667.85,488.18 669.71,489.70 C671.57,491.22 673.16,495.15 675.02,496.20 C676.88,497.25 678.47,495.89 680.33,495.70 C682.19,495.51 683.78,498.76 685.64,495.10 C687.50,491.44 689.09,478.42 690.95,474.80 C692.81,471.18 694.40,474.85 696.26,474.40 C698.12,473.94 699.71,470.24 701.57,472.20 C703.43,474.16 705.02,482.15 706.88,485.60 C708.74,489.05 710.33,490.85 712.19,491.90 C714.05,492.95 715.64,492.32 717.50,491.60 C719.36,490.88 720.95,489.51 722.81,487.80 C724.66,486.09 726.26,482.32 728.12,481.80 C729.97,481.28 731.57,485.29 733.43,484.80 C735.28,484.31 736.88,478.21 738.74,479.00 C740.59,479.79 742.19,490.19 744.05,489.30 C745.90,488.41 747.50,474.07 749.35,473.90 C751.21,473.72 752.81,486.90 754.66,488.30 C756.52,489.70 758.12,482.63 759.97,481.90 C761.83,481.16 763.43,484.17 765.28,484.10 C767.14,484.03 768.74,482.22 770.59,481.50 C772.45,480.78 774.04,478.63 775.90,480.00 C777.76,481.37 779.35,487.73 781.21,489.30 C783.07,490.88 784.66,489.16 786.52,489.00 C788.38,488.84 789.97,489.26 791.83,488.40 C793.69,487.54 795.28,484.85 797.14,484.10 C799.00,483.35 800.59,483.45 802.45,484.10 C804.31,484.75 805.90,487.73 807.76,487.80 C809.62,487.87 811.21,483.94 813.07,484.50 C814.93,485.06 816.52,488.85 818.38,491.00 C820.24,493.15 821.83,496.47 823.69,496.80 C825.55,497.13 828.07,493.58 829.00,492.90 L828.8,530 L664,530 Z" fill="#e6e8f3" fill-opacity="0.85"/><path d="M664.40,487.50 C665.33,487.88 667.85,488.18 669.71,489.70 C671.57,491.22 673.16,495.15 675.02,496.20 C676.88,497.25 678.47,495.89 680.33,495.70 C682.19,495.51 683.78,498.76 685.64,495.10 C687.50,491.44 689.09,478.42 690.95,474.80 C692.81,471.18 694.40,474.85 696.26,474.40 C698.12,473.94 699.71,470.24 701.57,472.20 C703.43,474.16 705.02,482.15 706.88,485.60 C708.74,489.05 710.33,490.85 712.19,491.90 C714.05,492.95 715.64,492.32 717.50,491.60 C719.36,490.88 720.95,489.51 722.81,487.80 C724.66,486.09 726.26,482.32 728.12,481.80 C729.97,481.28 731.57,485.29 733.43,484.80 C735.28,484.31 736.88,478.21 738.74,479.00 C740.59,479.79 742.19,490.19 744.05,489.30 C745.90,488.41 747.50,474.07 749.35,473.90 C751.21,473.72 752.81,486.90 754.66,488.30 C756.52,489.70 758.12,482.63 759.97,481.90 C761.83,481.16 763.43,484.17 765.28,484.10 C767.14,484.03 768.74,482.22 770.59,481.50 C772.45,480.78 774.04,478.63 775.90,480.00 C777.76,481.37 779.35,487.73 781.21,489.30 C783.07,490.88 784.66,489.16 786.52,489.00 C788.38,488.84 789.97,489.26 791.83,488.40 C793.69,487.54 795.28,484.85 797.14,484.10 C799.00,483.35 800.59,483.45 802.45,484.10 C804.31,484.75 805.90,487.73 807.76,487.80 C809.62,487.87 811.21,483.94 813.07,484.50 C814.93,485.06 816.52,488.85 818.38,491.00 C820.24,493.15 821.83,496.47 823.69,496.80 C825.55,497.13 828.07,493.58 829.00,492.90" fill="none" stroke="#8590c8" stroke-width="0.75"/><circle cx="664.4" cy="487.5" r="1.0" fill="#7884c2"/><circle cx="669.7" cy="489.7" r="1.0" fill="#7884c2"/><circle cx="675.0" cy="496.2" r="1.0" fill="#7884c2"/><circle cx="680.3" cy="495.7" r="1.0" fill="#7884c2"/><circle cx="685.6" cy="495.1" r="1.0" fill="#7884c2"/><circle cx="690.9" cy="474.8" r="1.0" fill="#7884c2"/><circle cx="696.3" cy="474.4" r="1.0" fill="#7884c2"/><circle cx="701.6" cy="472.2" r="1.0" fill="#7884c2"/><circle cx="706.9" cy="485.6" r="1.0" fill="#7884c2"/><circle cx="712.2" cy="491.9" r="1.0" fill="#7884c2"/><circle cx="717.5" cy="491.6" r="1.0" fill="#7884c2"/><circle cx="722.8" cy="487.8" r="1.0" fill="#7884c2"/><circle cx="728.1" cy="481.8" r="1.0" fill="#7884c2"/><circle cx="733.4" cy="484.8" r="1.0" fill="#7884c2"/><circle cx="738.7" cy="479.0" r="1.0" fill="#7884c2"/><circle cx="744.0" cy="489.3" r="1.0" fill="#7884c2"/><circle cx="749.4" cy="473.9" r="1.0" fill="#7884c2"/><circle cx="754.7" cy="488.3" r="1.0" fill="#7884c2"/><circle cx="760.0" cy="481.9" r="1.0" fill="#7884c2"/><circle cx="765.3" cy="484.1" r="1.0" fill="#7884c2"/><circle cx="770.6" cy="481.5" r="1.0" fill="#7884c2"/><circle cx="775.9" cy="480.0" r="1.0" fill="#7884c2"/><circle cx="781.2" cy="489.3" r="1.0" fill="#7884c2"/><circle cx="786.5" cy="489.0" r="1.0" fill="#7884c2"/><circle cx="791.8" cy="488.4" r="1.0" fill="#7884c2"/><circle cx="797.1" cy="484.1" r="1.0" fill="#7884c2"/><circle cx="802.5" cy="484.1" r="1.0" fill="#7884c2"/><circle cx="807.8" cy="487.8" r="1.0" fill="#7884c2"/><circle cx="813.1" cy="484.5" r="1.0" fill="#7884c2"/><circle cx="818.4" cy="491.0" r="1.0" fill="#7884c2"/><circle cx="823.7" cy="496.8" r="1.0" fill="#7884c2"/><circle cx="829.0" cy="492.9" r="1.0" fill="#7884c2"/><circle cx="830" cy="451.5" r="0.5" fill="#666"/><circle cx="830" cy="453" r="0.5" fill="#666"/><circle cx="830" cy="454.5" r="0.5" fill="#666"/><rect x="858.6" y="462.7" width="4.4" height="4.4" fill="#6e7ab3"/><text x="865.0" y="466.4" font-size="4.3" fill="#666">Identified; 3087x, 11.05%</text><rect x="854.8" y="471.1" width="4.4" height="4.4" fill="#35bfa8"/><text x="861.2" y="474.8" font-size="4.3" fill="#666">Anonymous; 39842x, 88.95%</text><path d="M887.8,514.0 L887.80,480.40 A33.6,33.6 0 0 1 909.30,488.18 Z" fill="#6e7ab3" stroke="#fff" stroke-width="0.7"/><path d="M887.8,514.0 L909.30,488.18 A33.6,33.6 0 1 1 887.80,480.40 Z" fill="#35bfa8" stroke="#fff" stroke-width="0.7"/></svg>
</svg></body></html>
